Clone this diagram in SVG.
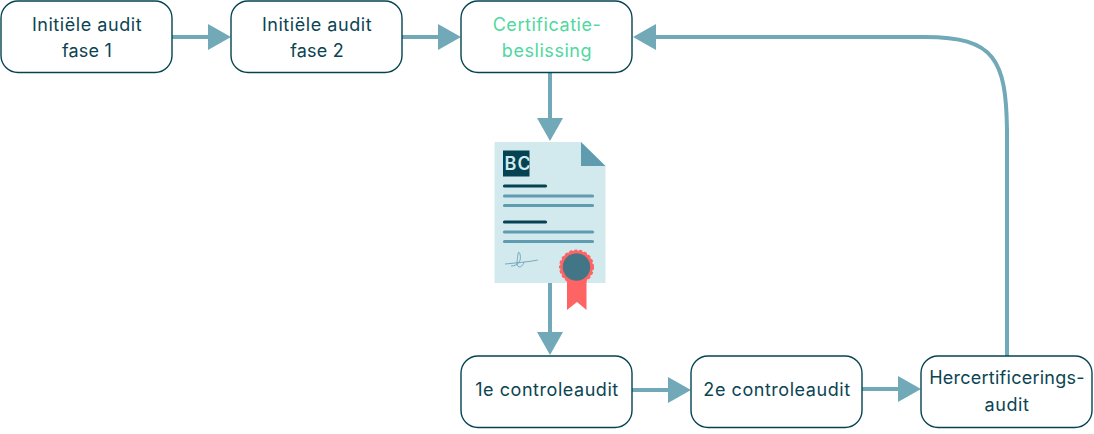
<svg xmlns="http://www.w3.org/2000/svg" width="1094" height="434" viewBox="0 0 1094 434">
<defs><clipPath id="bc"><rect x="503" y="150.500" width="26.500" height="26"/></clipPath></defs>
<style>
.box{fill:#fff;stroke:#054352;stroke-width:1.4}
.t{font-family:"Inter","Noto Sans",sans-serif;font-size:18px;letter-spacing:.55px;fill:#0b4452;text-anchor:middle}
.c{fill:none;stroke:#72a9b9;stroke-width:4}
.h{fill:#72a9b9}
.dk{stroke:#054352;stroke-width:3.2;stroke-linecap:round}
.md{stroke:#5f9cb0;stroke-width:3.2;stroke-linecap:round}
</style>
<g id="connectors">
<path class="c" d="M172 37H209"/><path class="h" d="M208 24L231 37L208 50Z"/>
<path class="c" d="M402 37H439"/><path class="h" d="M438 24L461 37L438 50Z"/>
<path class="c" d="M550 72V119"/><path class="h" d="M537 118L550 141L563 118Z"/>
<path class="c" d="M550 283V333"/><path class="h" d="M537 332L550 355L563 332Z"/>
<path class="c" d="M632 390H669"/><path class="h" d="M668 377L691 390L668 403Z"/>
<path class="c" d="M862 389H899"/><path class="h" d="M898 376L921 389L898 402Z"/>
<path class="c" d="M1007 356V130C1006 60 995 37 925 37H655"/><path class="h" d="M656 24L633 37L656 50Z"/>
</g>
<g id="node-1"><rect class="box" x="1" y="1" width="171" height="71.500" rx="17"/><text class="t" x="87" y="31">Initiële audit</text><text class="t" x="87" y="57" style="letter-spacing:.2px">fase 1</text></g>
<g id="node-2"><rect class="box" x="231" y="1" width="171" height="71.500" rx="17"/><text class="t" x="317" y="31">Initiële audit</text><text class="t" x="317" y="57" style="letter-spacing:.2px">fase 2</text></g>
<g id="node-3"><rect class="box" x="461" y="1" width="171" height="71.500" rx="17"/><text class="t" style="fill:#4fd8a0" x="547" y="31">Certificatie-</text><text class="t" style="fill:#4fd8a0" x="547" y="57">beslissing</text></g>
<g id="certificate">
<path fill="#d2e9ee" d="M494.500 142H581L605.500 166V283H494.500Z"/>
<path fill="#5f9cb0" d="M581 142L605.500 166H581Z"/>
<rect x="503" y="150.500" width="26.500" height="26" fill="#054352"/>
<text x="504.500" y="170" clip-path="url(#bc)" font-family="'Inter','Noto Sans',sans-serif" font-size="18" font-weight="600" letter-spacing="1.200" fill="#d2e9ee">BC</text>
<path class="dk" d="M504.500 186H545.500M504.500 222H545.500"/>
<path class="md" d="M504.500 196H592.500M504.500 205.500H592.500M504.500 232H592.500M504.500 241.500H592.500"/>
<path fill="none" stroke="#5f9cb0" stroke-width="0.800" d="M505 264C515 263 528 262 538 260M511 266C517 266 522 262 520 254C518 249 518 255 517 262C516 268 522 269 524 262"/>
<path fill="#ff6464" d="M567 270H586.500V310L577 302L567 310Z"/>
<circle cx="576.500" cy="267" r="16.500" fill="#ff6464" stroke="#ff6464" stroke-width="2" stroke-dasharray="3 2"/>
<circle cx="576.500" cy="267" r="13.700" fill="#427686"/>
</g>
<g id="node-4"><rect class="box" x="461" y="356" width="171" height="71.500" rx="17"/><text class="t" x="547" y="396">1e controleaudit</text></g>
<g id="node-5"><rect class="box" x="691" y="356" width="171" height="71.500" rx="17"/><text class="t" x="777" y="396">2e controleaudit</text></g>
<g id="node-6"><rect class="box" x="921" y="356" width="171" height="71.500" rx="17"/><text class="t" x="1007" y="384" style="letter-spacing:.25px">Hercertificerings-</text><text class="t" x="1007" y="411">audit</text></g>
</svg>
